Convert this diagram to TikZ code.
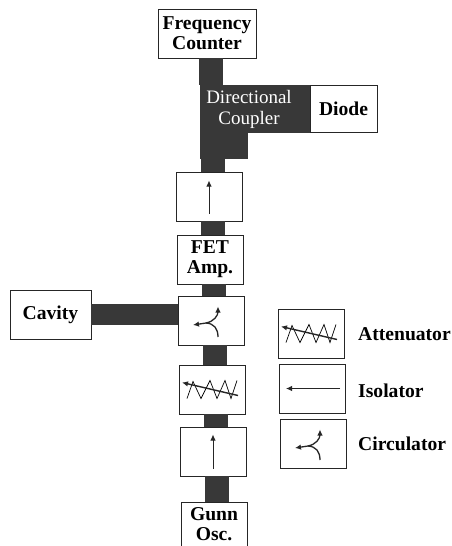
\documentclass[tikz,border=0pt]{standalone}
\usepackage{fontspec}
\setmainfont{Liberation Serif}
\usetikzlibrary{positioning,arrows.meta}

\tikzset{
  circsym/.pic={
    \draw[sym, line width=1.3pt] (7,-16.5) .. controls (7,-8) and (3,-3) .. (-5,-2.5) -- (-18,-4.5);
    \draw[sym, line width=1.3pt] (-5,-2.5) .. controls (3,-1) and (7,5) .. (7,14);
  },
  atnsym/.pic={
    \draw[line width=.7pt] (-25,-9) -- (-19,8) -- (-11,-9) -- (-2,9) -- (5,-9) -- (13,9) -- (19,-9) -- (25,9);
    \draw[sym, line width=1.4pt] (26,-6) -- (-30,7);
  }
}

\begin{document}
\begin{tikzpicture}[
  x=1pt, y=1pt,
  node distance=14pt,
  box/.style={draw=black!85, fill=white, line width=.9pt, outer sep=0pt, align=center, minimum width=66pt, minimum height=49pt, inner sep=1pt, font=\fontsize{19.6}{20}\selectfont\bfseries},
  lab/.style={inner sep=0pt, font=\fontsize{19.6}{20}\selectfont\bfseries},
  guide/.style={draw=black!78, line width=24pt},
  sym/.style={-{Latex[length=6pt,width=5.5pt]}, line width=1pt, black!85}
]
\useasboundingbox (0,0) rectangle (451,-546);
\clip (0,0) rectangle (451,-546);

% main line
\node[box, minimum width=98pt] (freq) at (207,-33.5) {Frequency \\ Counter};
\node[box, below=114pt of freq, xshift=2pt] (isoA) {};
\node[box, below=of isoA, xshift=1pt] (fet) {FET \\ Amp.};
\node[box, below=12pt of fet, xshift=1pt] (circ) {};
\node[box, below=20pt of circ, xshift=1pt] (atn) {};
\node[box, below=13pt of atn, xshift=1pt] (isoB) {};
\node[box, below=26pt of isoB, xshift=1pt, minimum height=45pt] (gunn) {Gunn \\ Osc.};

% side branches
\node[below=27pt of freq, xshift=42pt, fill=black!78, text=white, align=center, outer sep=0pt, minimum width=98pt, minimum height=48pt, inner sep=1pt, font=\fontsize{19}{21}\selectfont] (coupler) {Directional \\ Coupler};
\node[box, right=12pt of coupler, minimum width=67pt, minimum height=47pt] (diode) {Diode};
\node[box, left=87pt of circ, yshift=6pt, minimum width=81pt] (cavity) {Cavity};

% key
\node[box, right=34pt of circ, yshift=-13pt] (atnKey) {};
\node[box, below=6pt of atnKey, xshift=1pt] (isoKey) {};
\node[box, below=6pt of isoKey, xshift=1pt] (circKey) {};
\node[lab, right=14pt of atnKey, yshift=-1pt] (atnLab) {Attenuator};
\node[lab, right=13pt of isoKey, yshift=-2pt] (isoLab) {Isolator};
\node[lab, right=12pt of circKey] (circLab) {Circulator};

% waveguides
\draw[guide] ([xshift=3.5pt]freq.south) -- ([xshift=3.5pt]freq.south |- coupler.north);
\draw[guide] ([xshift=4pt]isoA.north |- coupler.south) -- ([xshift=4pt]isoA.north);
\draw[guide, line width=48pt] (coupler) -- (diode);
\fill[black!78] (coupler.south west) rectangle ++(48,-26);
\draw[guide] ([xshift=4pt]isoA.south) -- ([xshift=4pt]isoA.south |- fet.north);
\draw[guide] ([xshift=4pt]fet.south) -- ([xshift=4pt]fet.south |- circ.north);
\draw[guide] ([xshift=4pt]circ.south) -- ([xshift=4pt]circ.south |- atn.north);
\draw[guide] ([xshift=4pt]atn.south) -- ([xshift=4pt]atn.south |- isoB.north);
\draw[guide] ([xshift=4pt]isoB.south) -- ([xshift=4pt]isoB.south |- gunn.north);
\draw[guide, line width=21pt] (cavity.east) -- (cavity.east -| circ.west);

% symbols
\draw[sym] ([yshift=-17pt]isoA.center) -- ([yshift=16pt]isoA.center);
\draw[sym] ([yshift=-17pt]isoB.center) -- ([yshift=17pt]isoB.center);
\draw[sym] ([xshift=28pt]isoKey.center) -- ([xshift=-26pt]isoKey.center);
\pic at (circ.center) {circsym};
\pic at (circKey.center) {circsym};
\pic at (atn.center) {atnsym};
\pic at (atnKey.center) {atnsym};
\end{tikzpicture}
\end{document}
